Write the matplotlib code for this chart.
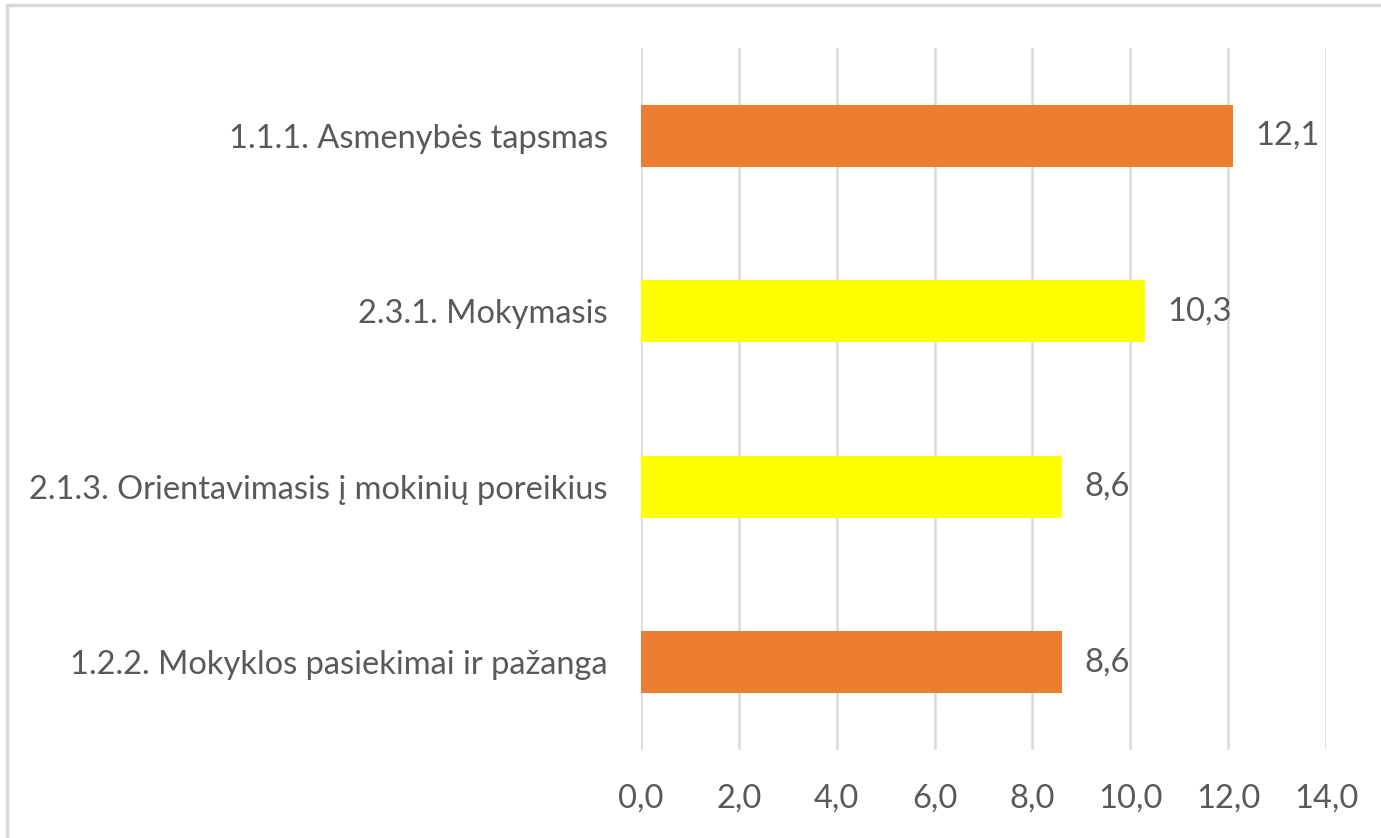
import matplotlib.pyplot as plt
from matplotlib.patches import Rectangle

categories = ["1.2.2. Mokyklos pasiekimai ir pažanga",
              "2.1.3. Orientavimasis į mokinių poreikius",
              "2.3.1. Mokymasis",
              "1.1.1. Asmenybės tapsmas"]
values = [8.6, 8.6, 10.3, 12.1]
colors = ["#ED7D31", "#FFFF00", "#FFFF00", "#ED7D31"]
xticks = [0, 2, 4, 6, 8, 10, 12, 14]

plt.rcParams["font.family"] = ["Lato", "DejaVu Sans"]
text_color = "#595959"
fs = 23.5

fig = plt.figure(figsize=(13.81, 8.38), dpi=100)
ax = fig.add_axes([641 / 1381, 1 - 750 / 838, 685 / 1381, 702 / 838])

# outer chart frame
fig.patches.append(Rectangle((7 / 1381, -0.01), 1.1, 1 - 5 / 838 + 0.01,
                             transform=fig.transFigure, fill=False,
                             edgecolor="#D9D9D9", linewidth=2.5))

ypos = range(len(categories))
ax.barh(ypos, values, height=0.355, color=colors, zorder=3)

for y, v in zip(ypos, values):
    ax.annotate(f"{v:.1f}".replace(".", ","), (v, y), xytext=(16, 0),
                textcoords="offset points", va="center", ha="left",
                fontsize=fs, color=text_color)

ax.set_xlim(0, 14)
ax.set_ylim(-0.5, 3.5)
ax.set_xticks(xticks)
ax.set_xticklabels([f"{t:.1f}".replace(".", ",") for t in xticks])
ax.set_yticks(list(ypos))
ax.set_yticklabels(categories)

ax.grid(axis="x", color="#D9D9D9", linewidth=1.8, zorder=0)
for s in ax.spines.values():
    s.set_visible(False)
ax.tick_params(axis="both", length=0, labelsize=fs, colors=text_color)
ax.tick_params(axis="y", pad=24)
ax.tick_params(axis="x", pad=24)

fig.savefig("out.png", dpi=100)
